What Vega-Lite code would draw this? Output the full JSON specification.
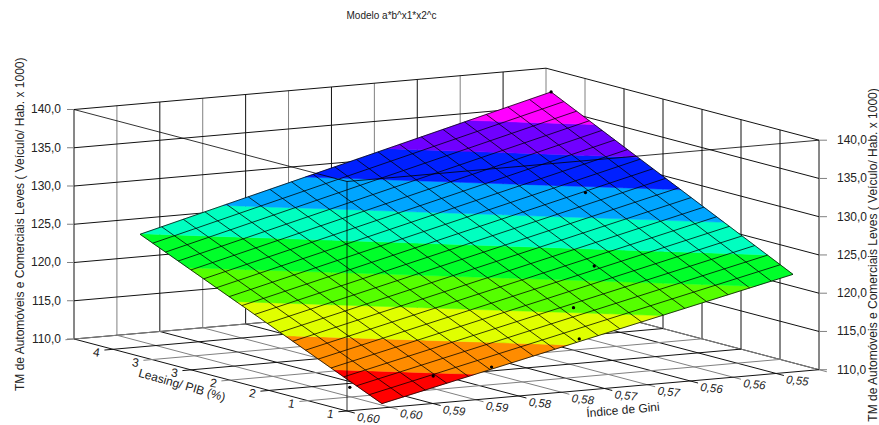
{"$schema":"https://vega.github.io/schema/vega-lite/v6.json","width":879,"height":425,"padding":0,"autosize":{"type":"none"},"background":"white","config":{"view":{"stroke":null},"text":{"font":"Liberation Sans","fontSize":12,"fill":"#222"}},
"datasets":{
"frame":[
{"gini":0.605,"leasing":4.3,"tm":110,"gini2":0.605,"leasing2":4.3,"tm2":140,"tone":"k"},
{"gini":0.6,"leasing":4.3,"tm":110,"gini2":0.6,"leasing2":4.3,"tm2":140,"tone":"g"},
{"gini":0.595,"leasing":4.3,"tm":110,"gini2":0.595,"leasing2":4.3,"tm2":140,"tone":"k"},
{"gini":0.59,"leasing":4.3,"tm":110,"gini2":0.59,"leasing2":4.3,"tm2":140,"tone":"g"},
{"gini":0.585,"leasing":4.3,"tm":110,"gini2":0.585,"leasing2":4.3,"tm2":140,"tone":"k"},
{"gini":0.58,"leasing":4.3,"tm":110,"gini2":0.58,"leasing2":4.3,"tm2":140,"tone":"g"},
{"gini":0.575,"leasing":4.3,"tm":110,"gini2":0.575,"leasing2":4.3,"tm2":140,"tone":"k"},
{"gini":0.57,"leasing":4.3,"tm":110,"gini2":0.57,"leasing2":4.3,"tm2":140,"tone":"g"},
{"gini":0.565,"leasing":4.3,"tm":110,"gini2":0.565,"leasing2":4.3,"tm2":140,"tone":"k"},
{"gini":0.56,"leasing":4.3,"tm":110,"gini2":0.56,"leasing2":4.3,"tm2":140,"tone":"g"},
{"gini":0.555,"leasing":4.3,"tm":110,"gini2":0.555,"leasing2":4.3,"tm2":140,"tone":"k"},
{"gini":0.55,"leasing":4.3,"tm":110,"gini2":0.55,"leasing2":4.3,"tm2":140,"tone":"g"},
{"gini":0.55,"leasing":3.8,"tm":110,"gini2":0.55,"leasing2":3.8,"tm2":140,"tone":"g"},
{"gini":0.55,"leasing":3.3,"tm":110,"gini2":0.55,"leasing2":3.3,"tm2":140,"tone":"k"},
{"gini":0.55,"leasing":2.8,"tm":110,"gini2":0.55,"leasing2":2.8,"tm2":140,"tone":"k"},
{"gini":0.55,"leasing":2.3,"tm":110,"gini2":0.55,"leasing2":2.3,"tm2":140,"tone":"k"},
{"gini":0.55,"leasing":1.8,"tm":110,"gini2":0.55,"leasing2":1.8,"tm2":140,"tone":"k"},
{"gini":0.55,"leasing":1.3,"tm":110,"gini2":0.55,"leasing2":1.3,"tm2":140,"tone":"k"},
{"gini":0.55,"leasing":0.8,"tm":110,"gini2":0.55,"leasing2":0.8,"tm2":140,"tone":"k"},
{"gini":0.605,"leasing":4.3,"tm":110,"gini2":0.55,"leasing2":4.3,"tm2":110,"tone":"k"},
{"gini":0.605,"leasing":4.3,"tm":115,"gini2":0.55,"leasing2":4.3,"tm2":115,"tone":"k"},
{"gini":0.605,"leasing":4.3,"tm":120,"gini2":0.55,"leasing2":4.3,"tm2":120,"tone":"k"},
{"gini":0.605,"leasing":4.3,"tm":125,"gini2":0.55,"leasing2":4.3,"tm2":125,"tone":"k"},
{"gini":0.605,"leasing":4.3,"tm":130,"gini2":0.55,"leasing2":4.3,"tm2":130,"tone":"k"},
{"gini":0.605,"leasing":4.3,"tm":135,"gini2":0.55,"leasing2":4.3,"tm2":135,"tone":"k"},
{"gini":0.605,"leasing":4.3,"tm":140,"gini2":0.55,"leasing2":4.3,"tm2":140,"tone":"k"},
{"gini":0.55,"leasing":4.3,"tm":110,"gini2":0.55,"leasing2":0.8,"tm2":110,"tone":"k"},
{"gini":0.55,"leasing":4.3,"tm":115,"gini2":0.55,"leasing2":0.8,"tm2":115,"tone":"k"},
{"gini":0.55,"leasing":4.3,"tm":120,"gini2":0.55,"leasing2":0.8,"tm2":120,"tone":"k"},
{"gini":0.55,"leasing":4.3,"tm":125,"gini2":0.55,"leasing2":0.8,"tm2":125,"tone":"k"},
{"gini":0.55,"leasing":4.3,"tm":130,"gini2":0.55,"leasing2":0.8,"tm2":130,"tone":"k"},
{"gini":0.55,"leasing":4.3,"tm":135,"gini2":0.55,"leasing2":0.8,"tm2":135,"tone":"k"},
{"gini":0.55,"leasing":4.3,"tm":140,"gini2":0.55,"leasing2":0.8,"tm2":140,"tone":"k"},
{"gini":0.605,"leasing":4.3,"tm":110,"gini2":0.60561,"leasing2":4.3224,"tm2":110,"tone":"g"},
{"gini":0.605,"leasing":4.3,"tm":115,"gini2":0.60561,"leasing2":4.3224,"tm2":115,"tone":"g"},
{"gini":0.605,"leasing":4.3,"tm":120,"gini2":0.60561,"leasing2":4.3224,"tm2":120,"tone":"g"},
{"gini":0.605,"leasing":4.3,"tm":125,"gini2":0.60561,"leasing2":4.3224,"tm2":125,"tone":"g"},
{"gini":0.605,"leasing":4.3,"tm":130,"gini2":0.60561,"leasing2":4.3224,"tm2":130,"tone":"g"},
{"gini":0.605,"leasing":4.3,"tm":135,"gini2":0.60561,"leasing2":4.3224,"tm2":135,"tone":"g"},
{"gini":0.605,"leasing":4.3,"tm":140,"gini2":0.60561,"leasing2":4.3224,"tm2":140,"tone":"g"},
{"gini":0.55,"leasing":0.8,"tm":110,"gini2":0.5493,"leasing2":0.7745,"tm2":110,"tone":"g"},
{"gini":0.55,"leasing":0.8,"tm":115,"gini2":0.5493,"leasing2":0.7745,"tm2":115,"tone":"g"},
{"gini":0.55,"leasing":0.8,"tm":120,"gini2":0.5493,"leasing2":0.7745,"tm2":120,"tone":"g"},
{"gini":0.55,"leasing":0.8,"tm":125,"gini2":0.5493,"leasing2":0.7745,"tm2":125,"tone":"g"},
{"gini":0.55,"leasing":0.8,"tm":130,"gini2":0.5493,"leasing2":0.7745,"tm2":130,"tone":"g"},
{"gini":0.55,"leasing":0.8,"tm":135,"gini2":0.5493,"leasing2":0.7745,"tm2":135,"tone":"g"},
{"gini":0.55,"leasing":0.8,"tm":140,"gini2":0.5493,"leasing2":0.7745,"tm2":140,"tone":"g"},
{"gini":0.605,"leasing":0.7,"tm":110,"gini2":0.605,"leasing2":4.3,"tm2":110,"tone":"k"},
{"gini":0.6,"leasing":0.7,"tm":110,"gini2":0.6,"leasing2":4.3,"tm2":110,"tone":"g"},
{"gini":0.595,"leasing":0.7,"tm":110,"gini2":0.595,"leasing2":4.3,"tm2":110,"tone":"k"},
{"gini":0.59,"leasing":0.7,"tm":110,"gini2":0.59,"leasing2":4.3,"tm2":110,"tone":"g"},
{"gini":0.585,"leasing":0.7,"tm":110,"gini2":0.585,"leasing2":4.3,"tm2":110,"tone":"k"},
{"gini":0.58,"leasing":0.7,"tm":110,"gini2":0.58,"leasing2":4.3,"tm2":110,"tone":"g"},
{"gini":0.575,"leasing":0.7,"tm":110,"gini2":0.575,"leasing2":4.3,"tm2":110,"tone":"k"},
{"gini":0.57,"leasing":0.7,"tm":110,"gini2":0.57,"leasing2":4.3,"tm2":110,"tone":"g"},
{"gini":0.565,"leasing":0.7,"tm":110,"gini2":0.565,"leasing2":4.3,"tm2":110,"tone":"k"},
{"gini":0.56,"leasing":0.7,"tm":110,"gini2":0.56,"leasing2":4.3,"tm2":110,"tone":"g"},
{"gini":0.555,"leasing":0.7,"tm":110,"gini2":0.555,"leasing2":4.3,"tm2":110,"tone":"k"},
{"gini":0.55,"leasing":0.7,"tm":110,"gini2":0.55,"leasing2":4.3,"tm2":110,"tone":"g"},
{"gini":0.606,"leasing":0.8,"tm":110,"gini2":0.55,"leasing2":0.8,"tm2":110,"tone":"k"},
{"gini":0.606,"leasing":1.3,"tm":110,"gini2":0.55,"leasing2":1.3,"tm2":110,"tone":"g"},
{"gini":0.606,"leasing":1.8,"tm":110,"gini2":0.55,"leasing2":1.8,"tm2":110,"tone":"k"},
{"gini":0.606,"leasing":2.3,"tm":110,"gini2":0.55,"leasing2":2.3,"tm2":110,"tone":"g"},
{"gini":0.606,"leasing":2.8,"tm":110,"gini2":0.55,"leasing2":2.8,"tm2":110,"tone":"k"},
{"gini":0.606,"leasing":3.3,"tm":110,"gini2":0.55,"leasing2":3.3,"tm2":110,"tone":"g"},
{"gini":0.606,"leasing":3.8,"tm":110,"gini2":0.55,"leasing2":3.8,"tm2":110,"tone":"k"},
{"gini":0.606,"leasing":4.3,"tm":110,"gini2":0.55,"leasing2":4.3,"tm2":110,"tone":"g"}
],
"bands":[
{"band":"b01","ord":1,"gini":0.5995,"leasing":0.9575,"tm":110},{"band":"b01","ord":2,"gini":0.58863,"leasing":0.9575,"tm":112.77},{"band":"b01","ord":3,"gini":0.5995,"leasing":1.5799,"tm":112.77},
{"band":"b02","ord":1,"gini":0.58863,"leasing":0.9575,"tm":112.77},{"band":"b02","ord":2,"gini":0.57775,"leasing":0.9575,"tm":115.54},{"band":"b02","ord":3,"gini":0.5995,"leasing":2.2023,"tm":115.54},{"band":"b02","ord":4,"gini":0.5995,"leasing":1.5799,"tm":112.77},
{"band":"b03","ord":1,"gini":0.57775,"leasing":0.9575,"tm":115.54},{"band":"b03","ord":2,"gini":0.56688,"leasing":0.9575,"tm":118.31},{"band":"b03","ord":3,"gini":0.5995,"leasing":2.8249,"tm":118.31},{"band":"b03","ord":4,"gini":0.5995,"leasing":2.2023,"tm":115.54},
{"band":"b04","ord":1,"gini":0.56688,"leasing":0.9575,"tm":118.31},{"band":"b04","ord":2,"gini":0.55600,"leasing":0.9575,"tm":121.08},{"band":"b04","ord":3,"gini":0.5995,"leasing":3.4473,"tm":121.08},{"band":"b04","ord":4,"gini":0.5995,"leasing":2.8249,"tm":118.31},
{"band":"b05","ord":1,"gini":0.55600,"leasing":0.9575,"tm":121.08},{"band":"b05","ord":2,"gini":0.5516,"leasing":0.9575,"tm":122.2},{"band":"b05","ord":3,"gini":0.5516,"leasing":1.2878,"tm":123.85},{"band":"b05","ord":4,"gini":0.59933,"leasing":4.0585,"tm":123.85},{"band":"b05","ord":5,"gini":0.5995,"leasing":4.0585,"tm":123.8},{"band":"b05","ord":6,"gini":0.5995,"leasing":3.4473,"tm":121.08},
{"band":"b06","ord":1,"gini":0.5516,"leasing":1.2878,"tm":123.85},{"band":"b06","ord":2,"gini":0.5516,"leasing":1.8419,"tm":126.62},{"band":"b06","ord":3,"gini":0.58978,"leasing":4.0585,"tm":126.62},{"band":"b06","ord":4,"gini":0.59933,"leasing":4.0585,"tm":123.85},
{"band":"b07","ord":1,"gini":0.5516,"leasing":1.8419,"tm":126.62},{"band":"b07","ord":2,"gini":0.5516,"leasing":2.3961,"tm":129.39},{"band":"b07","ord":3,"gini":0.58023,"leasing":4.0585,"tm":129.39},{"band":"b07","ord":4,"gini":0.58978,"leasing":4.0585,"tm":126.62},
{"band":"b08","ord":1,"gini":0.5516,"leasing":2.3961,"tm":129.39},{"band":"b08","ord":2,"gini":0.5516,"leasing":2.9502,"tm":132.16},{"band":"b08","ord":3,"gini":0.57069,"leasing":4.0585,"tm":132.16},{"band":"b08","ord":4,"gini":0.58023,"leasing":4.0585,"tm":129.39},
{"band":"b09","ord":1,"gini":0.5516,"leasing":2.9502,"tm":132.16},{"band":"b09","ord":2,"gini":0.5516,"leasing":3.5043,"tm":134.93},{"band":"b09","ord":3,"gini":0.56114,"leasing":4.0585,"tm":134.93},{"band":"b09","ord":4,"gini":0.57069,"leasing":4.0585,"tm":132.16},
{"band":"b10","ord":1,"gini":0.5516,"leasing":3.5043,"tm":134.93},{"band":"b10","ord":2,"gini":0.5516,"leasing":4.0585,"tm":137.7},{"band":"b10","ord":3,"gini":0.56114,"leasing":4.0585,"tm":134.93}
],
"grid":[
{"gini":0.5995,"leasing":0.9575,"tm":110,"gini2":0.5995,"leasing2":4.0585,"tm2":123.8},
{"gini":0.59698,"leasing":0.9575,"tm":110.642,"gini2":0.59698,"leasing2":4.0585,"tm2":124.532},
{"gini":0.59446,"leasing":0.9575,"tm":111.284,"gini2":0.59446,"leasing2":4.0585,"tm2":125.263},
{"gini":0.59194,"leasing":0.9575,"tm":111.926,"gini2":0.59194,"leasing2":4.0585,"tm2":125.995},
{"gini":0.58942,"leasing":0.9575,"tm":112.568,"gini2":0.58942,"leasing2":4.0585,"tm2":126.726},
{"gini":0.58689,"leasing":0.9575,"tm":113.211,"gini2":0.58689,"leasing2":4.0585,"tm2":127.458},
{"gini":0.58437,"leasing":0.9575,"tm":113.853,"gini2":0.58437,"leasing2":4.0585,"tm2":128.189},
{"gini":0.58185,"leasing":0.9575,"tm":114.495,"gini2":0.58185,"leasing2":4.0585,"tm2":128.921},
{"gini":0.57933,"leasing":0.9575,"tm":115.137,"gini2":0.57933,"leasing2":4.0585,"tm2":129.653},
{"gini":0.57681,"leasing":0.9575,"tm":115.779,"gini2":0.57681,"leasing2":4.0585,"tm2":130.384},
{"gini":0.57429,"leasing":0.9575,"tm":116.421,"gini2":0.57429,"leasing2":4.0585,"tm2":131.116},
{"gini":0.57177,"leasing":0.9575,"tm":117.063,"gini2":0.57177,"leasing2":4.0585,"tm2":131.847},
{"gini":0.56924,"leasing":0.9575,"tm":117.705,"gini2":0.56924,"leasing2":4.0585,"tm2":132.579},
{"gini":0.56672,"leasing":0.9575,"tm":118.347,"gini2":0.56672,"leasing2":4.0585,"tm2":133.311},
{"gini":0.5642,"leasing":0.9575,"tm":118.989,"gini2":0.5642,"leasing2":4.0585,"tm2":134.042},
{"gini":0.56168,"leasing":0.9575,"tm":119.632,"gini2":0.56168,"leasing2":4.0585,"tm2":134.774},
{"gini":0.55916,"leasing":0.9575,"tm":120.274,"gini2":0.55916,"leasing2":4.0585,"tm2":135.505},
{"gini":0.55664,"leasing":0.9575,"tm":120.916,"gini2":0.55664,"leasing2":4.0585,"tm2":136.237},
{"gini":0.55412,"leasing":0.9575,"tm":121.558,"gini2":0.55412,"leasing2":4.0585,"tm2":136.968},
{"gini":0.5516,"leasing":0.9575,"tm":122.2,"gini2":0.5516,"leasing2":4.0585,"tm2":137.7},
{"gini":0.5995,"leasing":0.9575,"tm":110,"gini2":0.5516,"leasing2":0.9575,"tm2":122.2},
{"gini":0.5995,"leasing":1.1207,"tm":110.726,"gini2":0.5516,"leasing2":1.1207,"tm2":123.016},
{"gini":0.5995,"leasing":1.2839,"tm":111.453,"gini2":0.5516,"leasing2":1.2839,"tm2":123.832},
{"gini":0.5995,"leasing":1.4471,"tm":112.179,"gini2":0.5516,"leasing2":1.4471,"tm2":124.647},
{"gini":0.5995,"leasing":1.6103,"tm":112.905,"gini2":0.5516,"leasing2":1.6103,"tm2":125.463},
{"gini":0.5995,"leasing":1.7736,"tm":113.632,"gini2":0.5516,"leasing2":1.7736,"tm2":126.279},
{"gini":0.5995,"leasing":1.9368,"tm":114.358,"gini2":0.5516,"leasing2":1.9368,"tm2":127.095},
{"gini":0.5995,"leasing":2.1,"tm":115.084,"gini2":0.5516,"leasing2":2.1,"tm2":127.911},
{"gini":0.5995,"leasing":2.2632,"tm":115.811,"gini2":0.5516,"leasing2":2.2632,"tm2":128.726},
{"gini":0.5995,"leasing":2.4264,"tm":116.537,"gini2":0.5516,"leasing2":2.4264,"tm2":129.542},
{"gini":0.5995,"leasing":2.5896,"tm":117.263,"gini2":0.5516,"leasing2":2.5896,"tm2":130.358},
{"gini":0.5995,"leasing":2.7528,"tm":117.989,"gini2":0.5516,"leasing2":2.7528,"tm2":131.174},
{"gini":0.5995,"leasing":2.9161,"tm":118.716,"gini2":0.5516,"leasing2":2.9161,"tm2":131.989},
{"gini":0.5995,"leasing":3.0793,"tm":119.442,"gini2":0.5516,"leasing2":3.0793,"tm2":132.805},
{"gini":0.5995,"leasing":3.2425,"tm":120.168,"gini2":0.5516,"leasing2":3.2425,"tm2":133.621},
{"gini":0.5995,"leasing":3.4057,"tm":120.895,"gini2":0.5516,"leasing2":3.4057,"tm2":134.437},
{"gini":0.5995,"leasing":3.5689,"tm":121.621,"gini2":0.5516,"leasing2":3.5689,"tm2":135.253},
{"gini":0.5995,"leasing":3.7321,"tm":122.347,"gini2":0.5516,"leasing2":3.7321,"tm2":136.068},
{"gini":0.5995,"leasing":3.8953,"tm":123.074,"gini2":0.5516,"leasing2":3.8953,"tm2":136.884},
{"gini":0.5995,"leasing":4.0585,"tm":123.8,"gini2":0.5516,"leasing2":4.0585,"tm2":137.7}
],
"front":[
{"gini":0.605,"leasing":0.8,"tm":110,"gini2":0.605,"leasing2":0.8,"tm2":140},
{"gini":0.605,"leasing":0.8,"tm":140,"gini2":0.605,"leasing2":4.3,"tm2":140},
{"gini":0.605,"leasing":0.8,"tm":140,"gini2":0.55,"leasing2":0.8,"tm2":140}
],
"obs":[
{"gini":0.5922,"leasing":1.103,"tm":112.5},
{"gini":0.5865,"leasing":0.982,"tm":113.43},
{"gini":0.5762,"leasing":0.991,"tm":116.08},
{"gini":0.5732,"leasing":1.395,"tm":118.79},
{"gini":0.5669,"leasing":1.822,"tm":122.47},
{"gini":0.5596,"leasing":2.738,"tm":128.88},
{"gini":0.5516,"leasing":4.0585,"tm":137.7},
{"gini":0.6002,"leasing":1.292,"tm":111.3}
],
"labels":[
{"kind":"zl","text":"110,0","gini":0.60561,"leasing":4.3224,"tm":110},{"kind":"zl","text":"115,0","gini":0.60561,"leasing":4.3224,"tm":115},{"kind":"zl","text":"120,0","gini":0.60561,"leasing":4.3224,"tm":120},{"kind":"zl","text":"125,0","gini":0.60561,"leasing":4.3224,"tm":125},{"kind":"zl","text":"130,0","gini":0.60561,"leasing":4.3224,"tm":130},{"kind":"zl","text":"135,0","gini":0.60561,"leasing":4.3224,"tm":135},{"kind":"zl","text":"140,0","gini":0.60561,"leasing":4.3224,"tm":140},
{"kind":"zr","text":"110,0","gini":0.5493,"leasing":0.7745,"tm":110},{"kind":"zr","text":"115,0","gini":0.5493,"leasing":0.7745,"tm":115},{"kind":"zr","text":"120,0","gini":0.5493,"leasing":0.7745,"tm":120},{"kind":"zr","text":"125,0","gini":0.5493,"leasing":0.7745,"tm":125},{"kind":"zr","text":"130,0","gini":0.5493,"leasing":0.7745,"tm":130},{"kind":"zr","text":"135,0","gini":0.5493,"leasing":0.7745,"tm":135},{"kind":"zr","text":"140,0","gini":0.5493,"leasing":0.7745,"tm":140},
{"kind":"g","text":"0,60","gini":0.6058,"leasing":0.44,"tm":110},{"kind":"g","text":"0,60","gini":0.6008,"leasing":0.44,"tm":110},{"kind":"g","text":"0,59","gini":0.5958,"leasing":0.44,"tm":110},{"kind":"g","text":"0,59","gini":0.5908,"leasing":0.44,"tm":110},{"kind":"g","text":"0,58","gini":0.5858,"leasing":0.44,"tm":110},{"kind":"g","text":"0,58","gini":0.5808,"leasing":0.44,"tm":110},{"kind":"g","text":"0,57","gini":0.5758,"leasing":0.44,"tm":110},{"kind":"g","text":"0,57","gini":0.5708,"leasing":0.44,"tm":110},{"kind":"g","text":"0,56","gini":0.5658,"leasing":0.44,"tm":110},{"kind":"g","text":"0,56","gini":0.5608,"leasing":0.44,"tm":110},{"kind":"g","text":"0,55","gini":0.5558,"leasing":0.44,"tm":110},
{"kind":"l","text":"1","gini":0.60744,"leasing":0.7432,"tm":110},{"kind":"l","text":"1","gini":0.60744,"leasing":1.2432,"tm":110},{"kind":"l","text":"2","gini":0.60744,"leasing":1.7432,"tm":110},{"kind":"l","text":"2","gini":0.60744,"leasing":2.2432,"tm":110},{"kind":"l","text":"3","gini":0.60744,"leasing":2.7432,"tm":110},{"kind":"l","text":"3","gini":0.60744,"leasing":3.2432,"tm":110},{"kind":"l","text":"4","gini":0.60744,"leasing":3.7432,"tm":110},
{"kind":"tz1","text":"TM de Automóveis e Comerciais Leves ( Veículo/ Hab. x 1000)","gini":0.60972,"leasing":4.4725,"tm":125},
{"kind":"tz2","text":"TM de Automóveis e Comerciais Leves ( Veículo/ Hab. x 1000)","gini":0.54528,"leasing":0.6275,"tm":125},
{"kind":"tl","text":"Leasing/ PIB (%)","gini":0.61081,"leasing":2.276,"tm":110},
{"kind":"tg","text":"Índice de Gini","gini":0.58052,"leasing":-0.045,"tm":110},
{"kind":"main","text":"Modelo a*b^x1*x2^c","gini":0.568,"leasing":4.3,"tm":148.63}
]},
"layer":[
{"data":{"name":"frame"},"transform":[
{"calculate":"347+472*(0.605-datum.gini)/0.055-273*(datum.leasing-0.8)/3.5","as":"px"},
{"calculate":"411-41.3*(0.605-datum.gini)/0.055-72*(datum.leasing-0.8)/3.5-(datum.tm-110)*229.5/30","as":"py"},
{"calculate":"347+472*(0.605-datum.gini2)/0.055-273*(datum.leasing2-0.8)/3.5","as":"px2"},
{"calculate":"411-41.3*(0.605-datum.gini2)/0.055-72*(datum.leasing2-0.8)/3.5-(datum.tm2-110)*229.5/30","as":"py2"}],
"mark":{"type":"rule","strokeWidth":1},
"encoding":{"x":{"field":"px","type":"quantitative","scale":{"domain":[0,879]},"axis":null},"y":{"field":"py","type":"quantitative","scale":{"domain":[425,0]},"axis":null},"x2":{"field":"px2"},"y2":{"field":"py2"},"color":{"field":"tone","type":"nominal","scale":{"domain":["k","g"],"range":["#111111","#808080"]},"legend":null}}},
{"data":{"name":"bands"},"transform":[
{"calculate":"347+472*(0.605-datum.gini)/0.055-273*(datum.leasing-0.8)/3.5","as":"px"},
{"calculate":"411-41.3*(0.605-datum.gini)/0.055-72*(datum.leasing-0.8)/3.5-(datum.tm-110)*229.5/30","as":"py"}],
"mark":{"type":"line","strokeWidth":0.5,"interpolate":"linear-closed"},
"encoding":{"x":{"field":"px","type":"quantitative","scale":{"domain":[0,879]},"axis":null},"y":{"field":"py","type":"quantitative","scale":{"domain":[425,0]},"axis":null},"order":{"field":"ord","type":"quantitative"},
"fill":{"field":"band","type":"nominal","scale":{"domain":["b01","b02","b03","b04","b05","b06","b07","b08","b09","b10"],"range":["#ff0000","#ff8c00","#e0ff00","#55ff00","#00ff2a","#00ffc0","#00a5ff","#0020ff","#7000ff","#ff00ff"]},"legend":null},
"stroke":{"field":"band","type":"nominal","scale":{"domain":["b01","b02","b03","b04","b05","b06","b07","b08","b09","b10"],"range":["#ff0000","#ff8c00","#e0ff00","#55ff00","#00ff2a","#00ffc0","#00a5ff","#0020ff","#7000ff","#ff00ff"]},"legend":null}}},
{"data":{"name":"grid"},"transform":[
{"calculate":"347+472*(0.605-datum.gini)/0.055-273*(datum.leasing-0.8)/3.5","as":"px"},
{"calculate":"411-41.3*(0.605-datum.gini)/0.055-72*(datum.leasing-0.8)/3.5-(datum.tm-110)*229.5/30","as":"py"},
{"calculate":"347+472*(0.605-datum.gini2)/0.055-273*(datum.leasing2-0.8)/3.5","as":"px2"},
{"calculate":"411-41.3*(0.605-datum.gini2)/0.055-72*(datum.leasing2-0.8)/3.5-(datum.tm2-110)*229.5/30","as":"py2"}],
"mark":{"type":"rule","strokeWidth":0.9,"color":"#000000","opacity":0.85},
"encoding":{"x":{"field":"px","type":"quantitative","scale":{"domain":[0,879]},"axis":null},"y":{"field":"py","type":"quantitative","scale":{"domain":[425,0]},"axis":null},"x2":{"field":"px2"},"y2":{"field":"py2"}}},
{"data":{"name":"obs"},"transform":[
{"calculate":"347+472*(0.605-datum.gini)/0.055-273*(datum.leasing-0.8)/3.5","as":"px"},
{"calculate":"411-41.3*(0.605-datum.gini)/0.055-72*(datum.leasing-0.8)/3.5-(datum.tm-110)*229.5/30","as":"py"}],
"mark":{"type":"point","filled":true,"size":11,"color":"#000000","opacity":1},
"encoding":{"x":{"field":"px","type":"quantitative","scale":{"domain":[0,879]},"axis":null},"y":{"field":"py","type":"quantitative","scale":{"domain":[425,0]},"axis":null}}},
{"data":{"name":"front"},"transform":[
{"calculate":"347+472*(0.605-datum.gini)/0.055-273*(datum.leasing-0.8)/3.5","as":"px"},
{"calculate":"411-41.3*(0.605-datum.gini)/0.055-72*(datum.leasing-0.8)/3.5-(datum.tm-110)*229.5/30","as":"py"},
{"calculate":"347+472*(0.605-datum.gini2)/0.055-273*(datum.leasing2-0.8)/3.5","as":"px2"},
{"calculate":"411-41.3*(0.605-datum.gini2)/0.055-72*(datum.leasing2-0.8)/3.5-(datum.tm2-110)*229.5/30","as":"py2"}],
"mark":{"type":"rule","strokeWidth":1,"color":"#000000","opacity":0.8},
"encoding":{"x":{"field":"px","type":"quantitative","scale":{"domain":[0,879]},"axis":null},"y":{"field":"py","type":"quantitative","scale":{"domain":[425,0]},"axis":null},"x2":{"field":"px2"},"y2":{"field":"py2"}}},
{"data":{"name":"labels"},"transform":[{"filter":"datum.kind=='zl'"},
{"calculate":"347+472*(0.605-datum.gini)/0.055-273*(datum.leasing-0.8)/3.5","as":"px"},
{"calculate":"411-41.3*(0.605-datum.gini)/0.055-72*(datum.leasing-0.8)/3.5-(datum.tm-110)*229.5/30","as":"py"}],
"mark":{"type":"text","align":"right","baseline":"middle","dx":-6},
"encoding":{"x":{"field":"px","type":"quantitative","scale":{"domain":[0,879]},"axis":null},"y":{"field":"py","type":"quantitative","scale":{"domain":[425,0]},"axis":null},"text":{"field":"text"}}},
{"data":{"name":"labels"},"transform":[{"filter":"datum.kind=='zr'"},
{"calculate":"347+472*(0.605-datum.gini)/0.055-273*(datum.leasing-0.8)/3.5","as":"px"},
{"calculate":"411-41.3*(0.605-datum.gini)/0.055-72*(datum.leasing-0.8)/3.5-(datum.tm-110)*229.5/30","as":"py"}],
"mark":{"type":"text","align":"left","baseline":"middle","dx":10},
"encoding":{"x":{"field":"px","type":"quantitative","scale":{"domain":[0,879]},"axis":null},"y":{"field":"py","type":"quantitative","scale":{"domain":[425,0]},"axis":null},"text":{"field":"text"}}},
{"data":{"name":"labels"},"transform":[{"filter":"datum.kind=='g'"},
{"calculate":"347+472*(0.605-datum.gini)/0.055-273*(datum.leasing-0.8)/3.5","as":"px"},
{"calculate":"411-41.3*(0.605-datum.gini)/0.055-72*(datum.leasing-0.8)/3.5-(datum.tm-110)*229.5/30","as":"py"}],
"mark":{"type":"text","align":"center","baseline":"middle","angle":6,"fontStyle":"italic","fontSize":11.5},
"encoding":{"x":{"field":"px","type":"quantitative","scale":{"domain":[0,879]},"axis":null},"y":{"field":"py","type":"quantitative","scale":{"domain":[425,0]},"axis":null},"text":{"field":"text"}}},
{"data":{"name":"labels"},"transform":[{"filter":"datum.kind=='l'"},
{"calculate":"347+472*(0.605-datum.gini)/0.055-273*(datum.leasing-0.8)/3.5","as":"px"},
{"calculate":"411-41.3*(0.605-datum.gini)/0.055-72*(datum.leasing-0.8)/3.5-(datum.tm-110)*229.5/30","as":"py"}],
"mark":{"type":"text","align":"center","baseline":"middle","angle":10},
"encoding":{"x":{"field":"px","type":"quantitative","scale":{"domain":[0,879]},"axis":null},"y":{"field":"py","type":"quantitative","scale":{"domain":[425,0]},"axis":null},"text":{"field":"text"}}},
{"data":{"name":"labels"},"transform":[{"filter":"datum.kind=='tz1'||datum.kind=='tz2'"},
{"calculate":"347+472*(0.605-datum.gini)/0.055-273*(datum.leasing-0.8)/3.5","as":"px"},
{"calculate":"411-41.3*(0.605-datum.gini)/0.055-72*(datum.leasing-0.8)/3.5-(datum.tm-110)*229.5/30","as":"py"}],
"mark":{"type":"text","align":"center","baseline":"middle","angle":270},
"encoding":{"x":{"field":"px","type":"quantitative","scale":{"domain":[0,879]},"axis":null},"y":{"field":"py","type":"quantitative","scale":{"domain":[425,0]},"axis":null},"text":{"field":"text"}}},
{"data":{"name":"labels"},"transform":[{"filter":"datum.kind=='tl'"},
{"calculate":"347+472*(0.605-datum.gini)/0.055-273*(datum.leasing-0.8)/3.5","as":"px"},
{"calculate":"411-41.3*(0.605-datum.gini)/0.055-72*(datum.leasing-0.8)/3.5-(datum.tm-110)*229.5/30","as":"py"}],
"mark":{"type":"text","align":"center","baseline":"middle","angle":16},
"encoding":{"x":{"field":"px","type":"quantitative","scale":{"domain":[0,879]},"axis":null},"y":{"field":"py","type":"quantitative","scale":{"domain":[425,0]},"axis":null},"text":{"field":"text"}}},
{"data":{"name":"labels"},"transform":[{"filter":"datum.kind=='tg'"},
{"calculate":"347+472*(0.605-datum.gini)/0.055-273*(datum.leasing-0.8)/3.5","as":"px"},
{"calculate":"411-41.3*(0.605-datum.gini)/0.055-72*(datum.leasing-0.8)/3.5-(datum.tm-110)*229.5/30","as":"py"}],
"mark":{"type":"text","align":"center","baseline":"middle","angle":355},
"encoding":{"x":{"field":"px","type":"quantitative","scale":{"domain":[0,879]},"axis":null},"y":{"field":"py","type":"quantitative","scale":{"domain":[425,0]},"axis":null},"text":{"field":"text"}}},
{"data":{"name":"labels"},"transform":[{"filter":"datum.kind=='main'"},
{"calculate":"347+472*(0.605-datum.gini)/0.055-273*(datum.leasing-0.8)/3.5","as":"px"},
{"calculate":"411-41.3*(0.605-datum.gini)/0.055-72*(datum.leasing-0.8)/3.5-(datum.tm-110)*229.5/30","as":"py"}],
"mark":{"type":"text","align":"center","baseline":"middle","fontSize":10},
"encoding":{"x":{"field":"px","type":"quantitative","scale":{"domain":[0,879]},"axis":null},"y":{"field":"py","type":"quantitative","scale":{"domain":[425,0]},"axis":null},"text":{"field":"text"}}}
]}
